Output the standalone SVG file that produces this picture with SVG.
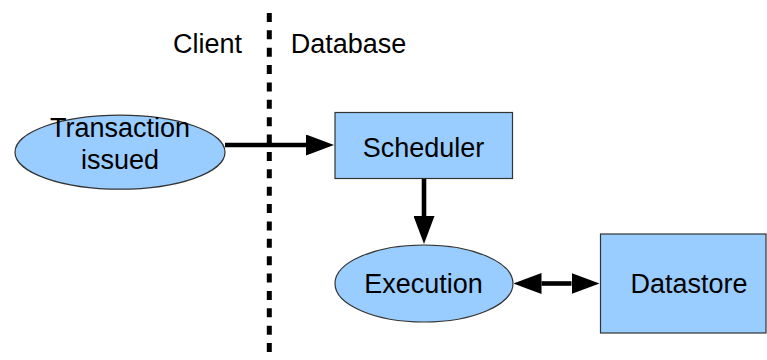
<svg xmlns="http://www.w3.org/2000/svg" width="767" height="360" viewBox="0 0 767 360">
  <defs>
    <style>
      .node { fill: #99ccff; stroke: #333333; stroke-width: 1.2; }
      .lbl { font-family: "Liberation Sans", Arial, sans-serif; font-size: 27px; fill: #000000; text-anchor: middle; }
      .conn { stroke: #000000; stroke-width: 4.6; fill: none; stroke-linecap: butt; }
    </style>
    <marker id="ah" viewBox="0 -10.5 28 21" refX="0" refY="0" markerWidth="28" markerHeight="21" markerUnits="userSpaceOnUse" orient="auto-start-reverse">
      <path d="M0,-10.5 L28,0 L0,10.5 z" fill="#000000"/>
    </marker>
  </defs>
  <rect width="767" height="360" fill="#ffffff"/>

  <g id="divider">
    <line x1="269.3" y1="13" x2="269.3" y2="353" stroke="#000000" stroke-width="5" stroke-dasharray="9 8.37"/>
    <text class="lbl" x="207.5" y="53.3">Client</text>
    <text class="lbl" x="348.5" y="53.3">Database</text>
  </g>

  <g id="connectors">
    <line class="conn" x1="225" y1="145" x2="306" y2="145" marker-end="url(#ah)"/>
    <line class="conn" x1="424" y1="178.5" x2="424" y2="216" marker-end="url(#ah)"/>
    <line class="conn" x1="541.5" y1="283.5" x2="571.5" y2="283.5" marker-start="url(#ah)" marker-end="url(#ah)"/>
  </g>

  <g id="transaction">
    <ellipse class="node" cx="120" cy="152.2" rx="105" ry="37"/>
    <text class="lbl" x="120" y="137.3">Transaction</text>
    <text class="lbl" x="120" y="169.3">issued</text>
  </g>

  <g id="scheduler">
    <rect class="node" x="335" y="112.5" width="177.5" height="66"/>
    <text class="lbl" x="423.5" y="156.7">Scheduler</text>
  </g>

  <g id="execution">
    <ellipse class="node" cx="424" cy="283.5" rx="89" ry="38.5"/>
    <text class="lbl" x="423.5" y="293.3">Execution</text>
  </g>

  <g id="datastore">
    <rect class="node" x="600.5" y="234" width="165.5" height="99"/>
    <text class="lbl" x="689" y="293.3">Datastore</text>
  </g>
</svg>
